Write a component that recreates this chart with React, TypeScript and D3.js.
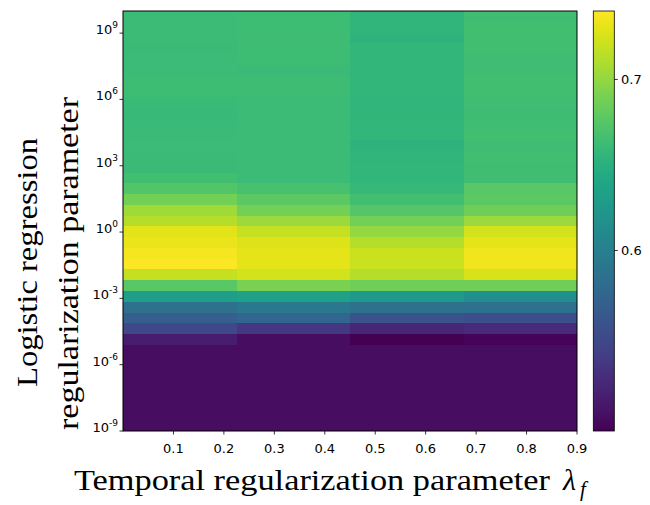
import React from "react";
import * as d3 from "d3";

// Columns: temporal regularization parameter bins (edges)
const xEdges = [0, 0.225, 0.45, 0.675, 0.9];
const xTicks = [0.1, 0.2, 0.3, 0.4, 0.5, 0.6, 0.7, 0.8, 0.9];
const yTickExps = [-9, -6, -3, 0, 3, 6, 9];
const cbTicks = [0.6, 0.7];

// Accuracy values per column, rows from C = 1e-9 (bottom) to 1e10 (top)
const col1 = [
  0.503, 0.503, 0.503, 0.503, 0.503, 0.503, 0.503, 0.503,
  0.514, 0.548, 0.568, 0.585, 0.631, 0.676, 0.718, 0.740, 0.737, 0.732, 0.729,
  0.713, 0.705, 0.688, 0.673, 0.666, 0.661,
  0.661, 0.662, 0.661, 0.661, 0.660, 0.661, 0.663, 0.663, 0.662, 0.662, 0.661,
  0.662, 0.662, 0.662,
];
const col2 = [
  0.503, 0.503, 0.503, 0.503, 0.503, 0.503, 0.503, 0.503, 0.503,
  0.534, 0.575, 0.593, 0.634, 0.691, 0.723, 0.730, 0.730, 0.727, 0.718, 0.703,
  0.688, 0.678, 0.669,
  0.662, 0.662, 0.662, 0.662, 0.662, 0.662, 0.662, 0.662, 0.664, 0.664, 0.661,
  0.663, 0.664, 0.664, 0.663, 0.663,
];
const col3 = [
  0.503, 0.503, 0.503, 0.503, 0.503, 0.503, 0.503, 0.503,
  0.4945, 0.521, 0.556, 0.585, 0.627, 0.686, 0.713, 0.720, 0.720, 0.713, 0.700,
  0.688, 0.674, 0.666,
  0.659, 0.656, 0.656, 0.655, 0.653, 0.656, 0.656, 0.655, 0.655, 0.656, 0.656,
  0.656, 0.656, 0.656, 0.653, 0.655, 0.655,
];
const col4 = [
  0.503, 0.503, 0.503, 0.503, 0.503, 0.503, 0.503, 0.503,
  0.497, 0.524, 0.553, 0.585, 0.617, 0.686, 0.725, 0.735, 0.735, 0.730, 0.723,
  0.703, 0.686, 0.678, 0.676,
  0.665, 0.665, 0.666, 0.665, 0.666, 0.665, 0.664, 0.665, 0.666, 0.666, 0.665,
  0.665, 0.666, 0.666, 0.666, 0.665,
];
const columns = [col1, col2, col3, col4];

const W = 650;
const H = 505;
const plot = { left: 123, right: 577, top: 11, bottom: 431 };
const cb = { left: 593.3, right: 614.3 };
const tickFont = "'DejaVu Sans', sans-serif";
const serif = "'Liberation Serif', 'DejaVu Serif', serif";

export default function App() {
  const nRows = col1.length;
  const yEdges = d3.range(nRows + 1).map((i) => Math.pow(10, -9 + (i * 19) / nRows));

  const x = d3.scaleLinear().domain([0, 0.9]).range([plot.left, plot.right]);
  const y = d3.scaleLog().domain([1e-9, 1e10]).range([plot.bottom, plot.top]);

  const all = columns.flat();
  const vmin = d3.min(all) as number;
  const vmax = d3.max(all) as number;
  const color = d3.scaleSequential(d3.interpolateViridis).domain([vmin, vmax]);
  const cbY = d3.scaleLinear().domain([vmin, vmax]).range([plot.bottom, plot.top]);

  const cells: React.ReactNode[] = [];
  columns.forEach((col, c) => {
    col.forEach((v, r) => {
      const x0 = x(xEdges[c]);
      const x1 = x(xEdges[c + 1]);
      const y0 = y(yEdges[r + 1]);
      const y1 = y(yEdges[r]);
      cells.push(
        <rect
          key={`${c}-${r}`}
          x={x0}
          y={y0}
          width={x1 - x0}
          height={y1 - y0}
          fill={color(v)}
          shapeRendering="crispEdges"
        />
      );
    });
  });

  const gradStops = d3.range(0, 1.0001, 0.02);

  return (
    <svg
      width={W}
      height={H}
      style={{ position: "absolute", left: 0, top: 0, background: "white" }}
    >
      <defs>
        <linearGradient id="cbgrad" x1="0" y1="1" x2="0" y2="0">
          {gradStops.map((t) => (
            <stop key={t} offset={t} stopColor={d3.interpolateViridis(t)} />
          ))}
        </linearGradient>
      </defs>
      <rect x={0} y={0} width={W} height={H} fill="white" />
      <g>{cells}</g>
      <rect
        x={plot.left}
        y={plot.top}
        width={plot.right - plot.left}
        height={plot.bottom - plot.top}
        fill="none"
        stroke="black"
        strokeWidth={1}
      />
      {/* x ticks */}
      {xTicks.map((t) => (
        <g key={t}>
          <line x1={x(t)} x2={x(t)} y1={plot.bottom} y2={plot.bottom + 3.5} stroke="black" strokeWidth={0.8} />
          <text x={x(t)} y={453} fontFamily={tickFont} fontSize={13} textAnchor="middle" fill="black">
            {t.toFixed(1)}
          </text>
        </g>
      ))}
      {/* y ticks */}
      {yTickExps.map((e) => {
        const yy = y(Math.pow(10, e));
        return (
          <g key={e}>
            <line x1={plot.left - 3.5} x2={plot.left} y1={yy} y2={yy} stroke="black" strokeWidth={0.8} />
            <text x={118} y={yy + 1} fontFamily={tickFont} fontSize={13} textAnchor="end" fill="black">
              10
              <tspan fontSize={9} dy={-6}>
                {String(e)}
              </tspan>
            </text>
          </g>
        );
      })}
      {/* colorbar */}
      <rect
        x={cb.left}
        y={plot.top}
        width={cb.right - cb.left}
        height={plot.bottom - plot.top}
        fill="url(#cbgrad)"
        stroke="black"
        strokeWidth={0.8}
      />
      {cbTicks.map((t) => (
        <g key={t}>
          <line x1={cb.right} x2={cb.right + 3.5} y1={cbY(t)} y2={cbY(t)} stroke="black" strokeWidth={0.8} />
          <text x={621} y={cbY(t) + 4.5} fontFamily={tickFont} fontSize={13} fill="black">
            {t.toFixed(1)}
          </text>
        </g>
      ))}
      {/* x label */}
      <text x={74} y={490} fontFamily={serif} fontSize={30} textLength={476} lengthAdjust="spacingAndGlyphs" fill="black">
        Temporal regularization parameter
      </text>
      <text x={563} y={490} fontFamily={serif} fontSize={30} fontStyle="italic" fill="black">
        λ
      </text>
      <text x={580} y={496} fontFamily={serif} fontSize={21} fontStyle="italic" fill="black">
        f
      </text>
      {/* y label */}
      <g transform="rotate(-90)">
        <text x={-262.5} y={37} fontFamily={serif} fontSize={30} textAnchor="middle" textLength={249} lengthAdjust="spacingAndGlyphs" fill="black">
          Logistic regression
        </text>
        <text x={-263.5} y={78} fontFamily={serif} fontSize={30} textAnchor="middle" textLength={333} lengthAdjust="spacingAndGlyphs" fill="black">
          regularization parameter
        </text>
      </g>
    </svg>
  );
}
